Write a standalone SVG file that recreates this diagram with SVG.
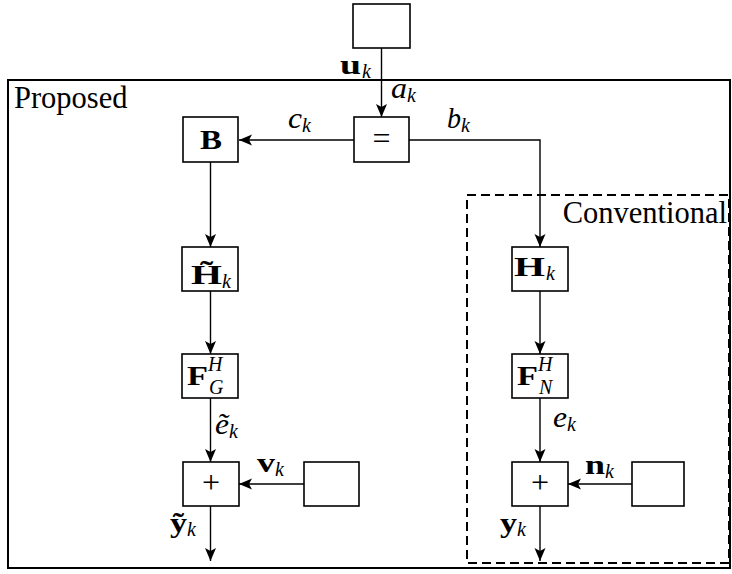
<svg xmlns="http://www.w3.org/2000/svg" width="732" height="574" viewBox="0 0 732 574" font-family="'Liberation Serif', 'DejaVu Serif', serif">
  <style>
    .box { fill: #fff; stroke: #000; stroke-width: 1.6; }
    .wire { fill: none; stroke: #000; stroke-width: 1.4; }
    .frame { fill: none; stroke: #000; stroke-width: 2; }
    .dash { fill: none; stroke: #000; stroke-width: 2; stroke-dasharray: 9 5; }
    text { font-family: 'Liberation Serif', 'DejaVu Serif', serif; fill: #000; }
    .lbl { font-size: 30.5px; }
    .m { font-size: 29px; font-style: italic; }
    .vb { font-size: 27px; font-weight: bold; }
    .sub { font-size: 20px; font-style: italic; }
    .op { font-size: 32px; }
  </style>
  <defs>
    <marker id="arr" markerUnits="userSpaceOnUse" markerWidth="14" markerHeight="12" refX="13" refY="6" orient="auto">
      <path d="M0,0.5 L13,6 L0,11.5 L3,6 Z" fill="#000"/>
    </marker>
  </defs>

  <!-- enclosing frames -->
  <rect class="frame" x="8" y="80" width="722" height="488"/>
  <text class="lbl" x="14" y="108">Proposed</text>
  <rect class="dash" x="467" y="195" width="262" height="368"/>
  <text class="lbl" x="727" y="223" text-anchor="end">Conventional</text>

  <!-- connectors -->
  <g id="connectors">
    <path class="wire" d="M381.5,48 V117" marker-end="url(#arr)"/>
    <path class="wire" d="M354,140 H239" marker-end="url(#arr)"/>
    <path class="wire" d="M409,140 H540 V247" marker-end="url(#arr)"/>
    <path class="wire" d="M210.5,162 V247" marker-end="url(#arr)"/>
    <path class="wire" d="M210.5,291 V354" marker-end="url(#arr)"/>
    <path class="wire" d="M210.5,398 V462" marker-end="url(#arr)"/>
    <path class="wire" d="M304,484 H239" marker-end="url(#arr)"/>
    <path class="wire" d="M210.5,506 V561" marker-end="url(#arr)"/>
    <path class="wire" d="M540,291 V354" marker-end="url(#arr)"/>
    <path class="wire" d="M540,398 V462" marker-end="url(#arr)"/>
    <path class="wire" d="M632,484 H568" marker-end="url(#arr)"/>
    <path class="wire" d="M540,506 V561" marker-end="url(#arr)"/>

    <!-- signal labels -->
    <text class="vb" x="340" y="74" textLength="21" lengthAdjust="spacingAndGlyphs">u</text>
    <text class="sub" x="362" y="78">k</text>
    <text class="m" x="391" y="98" textLength="16" lengthAdjust="spacingAndGlyphs">a</text>
    <text class="sub" x="407" y="102">k</text>
    <text class="m" x="288" y="128" textLength="14" lengthAdjust="spacingAndGlyphs">c</text>
    <text class="sub" x="302" y="132">k</text>
    <text class="m" x="447" y="128" textLength="14" lengthAdjust="spacingAndGlyphs">b</text>
    <text class="sub" x="461" y="132">k</text>
    <text class="m" x="215" y="434" textLength="14" lengthAdjust="spacingAndGlyphs">ẽ</text>
    <text class="sub" x="229" y="438">k</text>
    <text class="vb" x="257" y="472" textLength="18" lengthAdjust="spacingAndGlyphs">v</text>
    <text class="sub" x="275" y="476">k</text>
    <text class="vb" x="170" y="532" textLength="17" lengthAdjust="spacingAndGlyphs">ỹ</text>
    <text class="sub" x="187" y="536">k</text>
    <text class="m" x="553" y="427" textLength="14" lengthAdjust="spacingAndGlyphs">e</text>
    <text class="sub" x="567" y="431">k</text>
    <text class="vb" x="585" y="474" textLength="20" lengthAdjust="spacingAndGlyphs">n</text>
    <text class="sub" x="605" y="478">k</text>
    <text class="vb" x="500" y="532" textLength="17" lengthAdjust="spacingAndGlyphs">y</text>
    <text class="sub" x="517" y="536">k</text>
  </g>

  <!-- source feeding the chain -->
  <g id="source">
    <rect class="box" x="353" y="4" width="57" height="44"/>
  </g>

  <g id="split">
    <rect class="box" x="354" y="117" width="55" height="45"/>
    <text class="op" x="381.5" y="149" text-anchor="middle">=</text>
  </g>

  <g id="B">
    <rect class="box" x="183" y="117" width="55" height="45"/>
    <text class="vb" x="200" y="149" textLength="22" lengthAdjust="spacingAndGlyphs">B</text>
  </g>

  <g id="Htilde">
    <rect class="box" x="182" y="247" width="56" height="44"/>
    <text class="vb" x="191" y="284" textLength="31" lengthAdjust="spacingAndGlyphs">H̃</text>
    <text class="sub" x="222" y="288">k</text>
  </g>

  <g id="FG">
    <rect class="box" x="182" y="354" width="56" height="44"/>
    <text class="vb" x="187" y="385" textLength="21" lengthAdjust="spacingAndGlyphs">F</text>
    <text class="sub" x="208" y="371">H</text>
    <text class="sub" x="209" y="394">G</text>
  </g>

  <g id="sumP">
    <rect class="box" x="183" y="462" width="56" height="44"/>
    <text class="op" x="211" y="493" text-anchor="middle">+</text>
  </g>

  <g id="noiseP">
    <rect class="box" x="304" y="462" width="55" height="44"/>
  </g>

  <g id="H">
    <rect class="box" x="512" y="247" width="56" height="44"/>
    <text class="vb" x="514" y="276" textLength="31" lengthAdjust="spacingAndGlyphs">H</text>
    <text class="sub" x="546" y="280">k</text>
  </g>

  <g id="FN">
    <rect class="box" x="512" y="354" width="56" height="44"/>
    <text class="vb" x="517" y="385" textLength="21" lengthAdjust="spacingAndGlyphs">F</text>
    <text class="sub" x="538" y="371">H</text>
    <text class="sub" x="539" y="394">N</text>
  </g>

  <g id="sumC">
    <rect class="box" x="512" y="462" width="56" height="44"/>
    <text class="op" x="540" y="493" text-anchor="middle">+</text>
  </g>

  <g id="noiseC">
    <rect class="box" x="632" y="462" width="52" height="44"/>
  </g>
</svg>
